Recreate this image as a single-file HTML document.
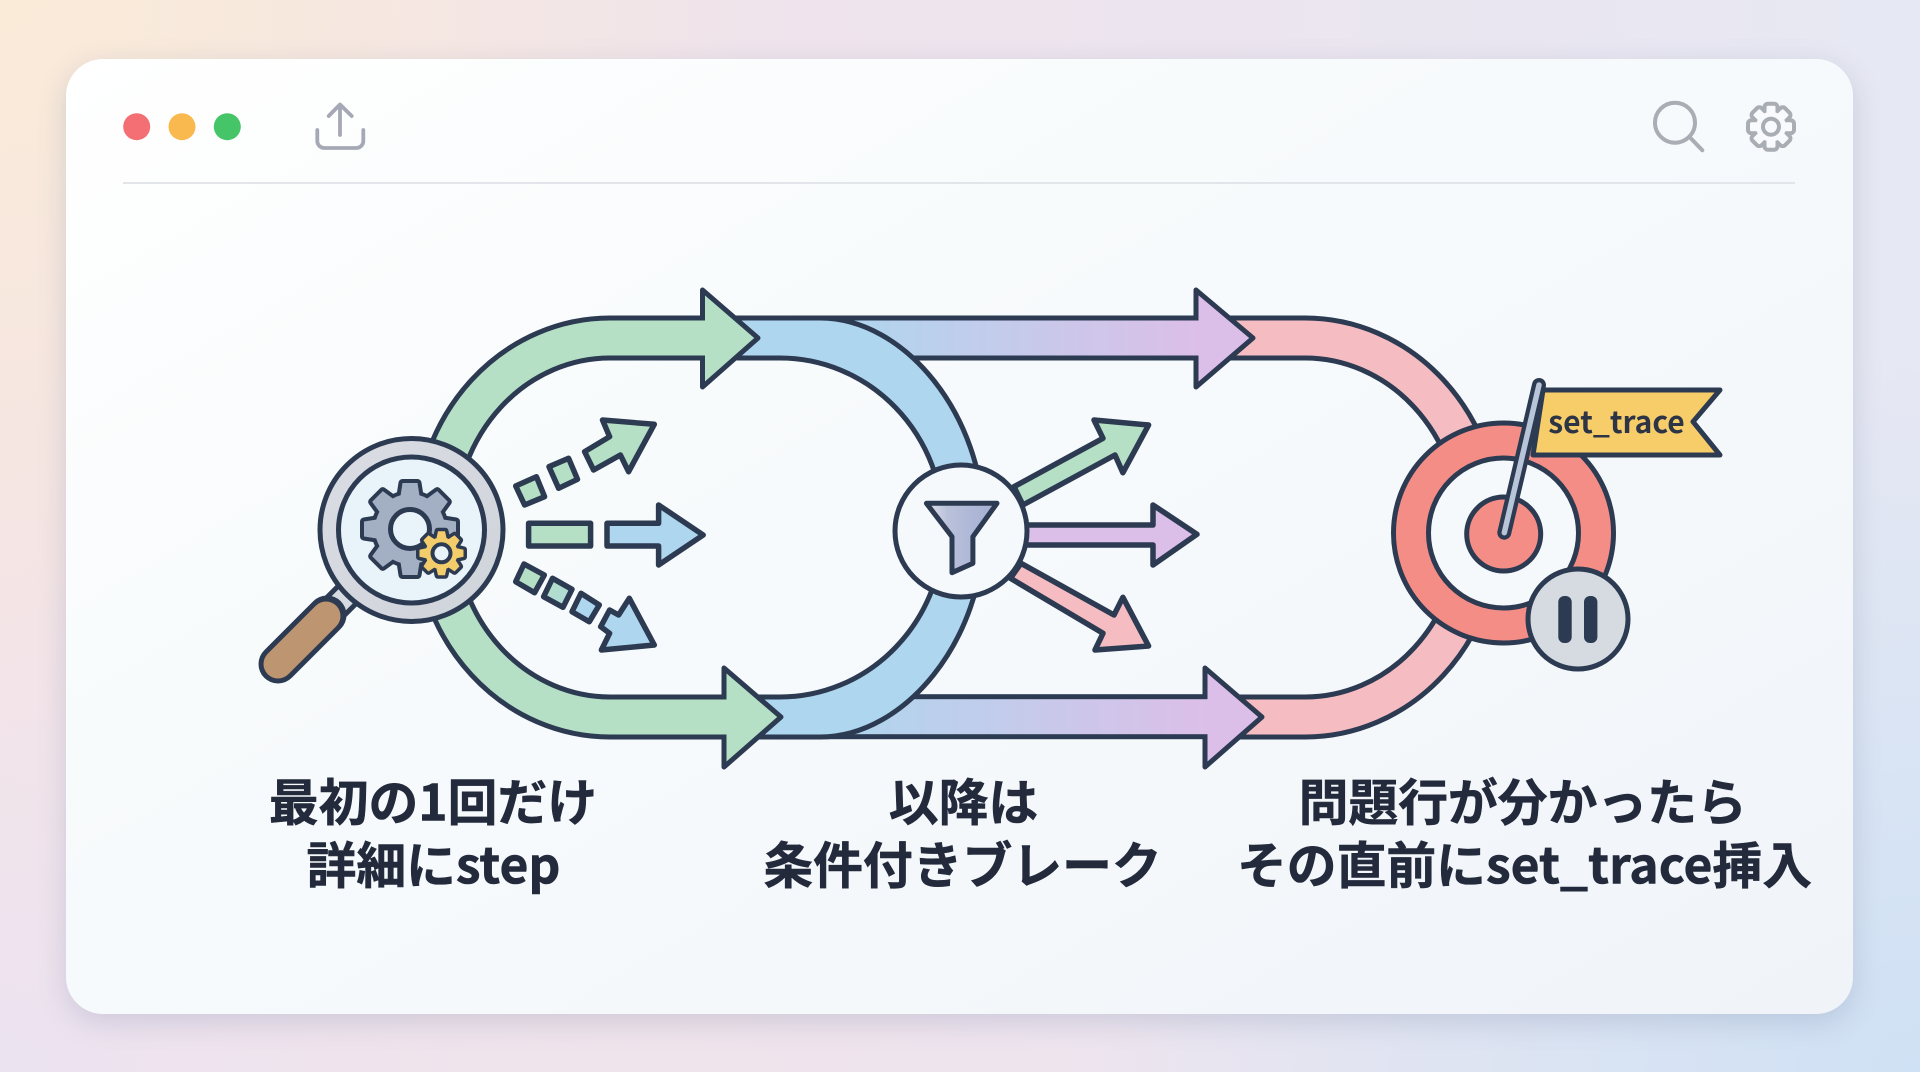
<!DOCTYPE html>
<html lang="ja"><head><meta charset="utf-8"><title>Diagram</title>
<style>
html,body{margin:0;padding:0;width:1920px;height:1072px;overflow:hidden}
body{position:relative;background:
 radial-gradient(ellipse 760px 640px at 0 0,#faebd8 0%,rgba(250,235,216,0) 100%),
 radial-gradient(ellipse 820px 720px at 1920px 1072px,#cfe1f4 0%,rgba(207,225,244,0) 100%),
 radial-gradient(ellipse 700px 500px at 0 1072px,#ece3f1 0%,rgba(236,227,241,0) 100%),
 linear-gradient(90deg,#f4e4e6 0%,#eee4ee 50%,#e6e8f3 100%);}
#card{position:absolute;left:66px;top:59px;width:1787px;height:955px;border-radius:37px;
 background:linear-gradient(150deg,#ffffff 0%,#f8fbfc 35%,#f4f8fb 70%,#f0f3f8 100%);
 box-shadow:0 8px 28px rgba(90,105,140,.22)}
svg{position:absolute;left:0;top:0}
text{font-family:"Noto Sans CJK JP","Liberation Sans",sans-serif;font-weight:700}
</style></head><body>
<div id="card"></div>
<svg width="1920" height="1072" viewBox="0 0 1920 1072" xmlns="http://www.w3.org/2000/svg">
<defs>
<linearGradient id="bp" gradientUnits="userSpaceOnUse" x1="830" y1="0" x2="1200" y2="0"><stop offset="0" stop-color="#aed6ee"/><stop offset="1" stop-color="#dcbfe8"/></linearGradient>
<linearGradient id="bp2" gradientUnits="userSpaceOnUse" x1="830" y1="0" x2="1210" y2="0"><stop offset="0" stop-color="#aed6ee"/><stop offset="1" stop-color="#dcbfe8"/></linearGradient>
<linearGradient id="ring" x1="0" y1="0" x2="1" y2="1"><stop offset="0" stop-color="#dadde3"/><stop offset="1" stop-color="#cfd3da"/></linearGradient>
<linearGradient id="fun" x1="0" y1="0" x2="1" y2="0"><stop offset="0" stop-color="#e0e3ec"/><stop offset=".3" stop-color="#b9c1da"/><stop offset="1" stop-color="#a3aed2"/></linearGradient>
<linearGradient id="s2" x1="0" y1="0" x2="1" y2="1"><stop offset="0" stop-color="#b5e0c5"/><stop offset="1" stop-color="#aed9dc"/></linearGradient>
<g id="bigg">
 <circle r="35"/>
 <path id="t" d="M-10,-30L-7.5,-46H7.5L10,-30Z"/>
 <use href="#t" transform="rotate(45)"/>
 <use href="#t" transform="rotate(90)"/>
 <use href="#t" transform="rotate(135)"/>
 <use href="#t" transform="rotate(180)"/>
 <use href="#t" transform="rotate(225)"/>
 <use href="#t" transform="rotate(270)"/>
 <use href="#t" transform="rotate(315)"/>
</g>
<g id="smg">
 <circle r="16"/>
 <path id="u" d="M-5.5,-13L-3.5,-22H3.5L5.5,-13Z"/>
 <use href="#u" transform="rotate(45)"/>
 <use href="#u" transform="rotate(90)"/>
 <use href="#u" transform="rotate(135)"/>
 <use href="#u" transform="rotate(180)"/>
 <use href="#u" transform="rotate(225)"/>
 <use href="#u" transform="rotate(270)"/>
 <use href="#u" transform="rotate(315)"/>
</g>
<g id="topg">
 <circle r="15"/>
 <rect x="-4.5" y="-21" width="9" height="9" rx="1.5"/>
 <rect x="-4.5" y="-21" width="9" height="9" rx="1.5" transform="rotate(45)"/>
 <rect x="-4.5" y="-21" width="9" height="9" rx="1.5" transform="rotate(90)"/>
 <rect x="-4.5" y="-21" width="9" height="9" rx="1.5" transform="rotate(135)"/>
 <rect x="-4.5" y="-21" width="9" height="9" rx="1.5" transform="rotate(180)"/>
 <rect x="-4.5" y="-21" width="9" height="9" rx="1.5" transform="rotate(225)"/>
 <rect x="-4.5" y="-21" width="9" height="9" rx="1.5" transform="rotate(270)"/>
 <rect x="-4.5" y="-21" width="9" height="9" rx="1.5" transform="rotate(315)"/>
</g>
</defs>

<!-- window chrome -->
<circle cx="136.7" cy="126.7" r="13.5" fill="#f46f73"/>
<circle cx="182" cy="126.7" r="13.5" fill="#fab94e"/>
<circle cx="227.3" cy="126.7" r="13.5" fill="#45c468"/>
<rect x="123" y="182" width="1672" height="2" fill="#e2e6ea"/>
<g fill="none" stroke="#a5a9b6" stroke-width="3.8" stroke-linecap="round" stroke-linejoin="round">
 <path d="M340,105V135M328.7,116L340,104.5L351.7,116"/>
 <path d="M317.3,130V141a7,7 0 0 0 7,7H356.3a7,7 0 0 0 7,-7V130"/>
</g>
<g fill="none" stroke="#a9adb4" stroke-width="4" stroke-linecap="round">
 <circle cx="1675" cy="122.7" r="20"/>
 <path d="M1689.5,137L1702.3,150.3"/>
</g>
<g transform="translate(1771,126.7)">
 <use href="#topg" fill="#a9adb4" stroke="#a9adb4" stroke-width="8"/>
 <use href="#topg" fill="#f8fafd"/>
 <circle r="8" fill="none" stroke="#a9adb4" stroke-width="4"/>
</g>

<!-- pink return arcs -->
<path d="M1225,338H1305A175,189.5 0 0 1 1305,717H1225" fill="none" stroke="#2c3a52" stroke-width="45"/>
<path d="M1225,338H1305A175,189.5 0 0 1 1305,717H1225" fill="none" stroke="#f5bdc2" stroke-width="35"/>

<!-- gradient bands -->
<rect x="800" y="315.5" width="400" height="45" fill="#2c3a52"/>
<rect x="800" y="694.2" width="410" height="45" fill="#2c3a52"/>
<polygon points="1196,290 1253,338 1196,387" fill="#dcbfe8" stroke="#2c3a52" stroke-width="5" stroke-linejoin="round"/>
<polygon points="1205,668 1262,717 1205,767" fill="#dcbfe8" stroke="#2c3a52" stroke-width="5" stroke-linejoin="round"/>
<rect x="800" y="320.5" width="399" height="35" fill="url(#bp)"/>
<rect x="800" y="699.2" width="408" height="35" fill="url(#bp2)"/>

<!-- blue arc -->
<path d="M715,318H820C905,318 984,415 984,527.5C984,640 905,737 820,737H737V697H780A163.5,169.5 0 0 0 780,358H715Z" fill="#aed6ee"/>
<path d="M715,318H820C905,318 984,415 984,527.5C984,640 905,737 820,737H737M737,697H780A163.5,169.5 0 0 0 780,358H715" fill="none" stroke="#2c3a52" stroke-width="5"/>

<!-- green arc -->
<path d="M705,338H610A175,189.5 0 0 0 610,717H727" fill="none" stroke="#2c3a52" stroke-width="45"/>
<polygon points="702.5,290 758,338 702.5,387" fill="#b5e0c5" stroke="#2c3a52" stroke-width="5" stroke-linejoin="round"/>
<polygon points="724,668 781,717 724,767" fill="#b5e0c5" stroke="#2c3a52" stroke-width="5" stroke-linejoin="round"/>
<path d="M706,338H610A175,189.5 0 0 0 610,717H728" fill="none" stroke="#b5e0c5" stroke-width="35"/>

<!-- dashed arrows -->
<g stroke="#2c3a52" stroke-width="5.5" stroke-linejoin="round">
 <polygon points="515.7,486 536.4,476.7 544.6,496.7 524.6,505" fill="#b5e0c5"/>
 <polygon points="549,466.7 568.6,458.3 577.5,479.3 558.6,488.3" fill="#b5e0c5"/>
 <polygon points="584.6,451.7 609.6,436.7 602.5,420 654.3,424.3 628.6,471.7 620.4,455 593.6,470" fill="#b5e0c5"/>
 <rect x="528.6" y="523.3" width="62" height="22.7" fill="#b5e0c5"/>
 <polygon points="607,523.3 658.6,523.3 658.6,505 703.2,535 658.6,565 658.6,546 607,546" fill="#aed6ee"/>
 <polygon points="524,564 544.3,575 534.6,592.7 515.7,581.7" fill="#b5e0c5"/>
 <polygon points="552.5,578.3 572,589.3 563,607.3 543.6,596.7" fill="url(#s2)"/>
 <polygon points="581,593.3 599.3,605 589.3,621.7 572,611.7" fill="#aed6ee"/>
 <polygon points="609.6,610 618.6,615 629.3,598.3 654.3,645 601.4,650 609.6,633.3 600.7,626.7" fill="#aed6ee"/>
 <!-- filter arrows -->
 <polygon points="1014,486.7 1103,438.3 1094,420 1148.6,425 1122.9,472.7 1115,455 1022.9,505" fill="#b5e0c5"/>
 <polygon points="1020,525 1153,525 1153,505 1197,534.3 1153,565 1153,545 1020,545" fill="#dcbfe8"/>
 <polygon points="1021,563.3 1114,615 1122.9,597.3 1148.6,646 1095,650 1103,633.3 1010.4,578.3" fill="#f5bdc2"/>
</g>

<!-- funnel node -->
<circle cx="961" cy="531" r="66" fill="#f5f9fb" stroke="#2c3a52" stroke-width="5"/>
<polygon points="926.4,503.3 997,503.3 972.9,536.7 972.9,563.3 952,572.7 952,536.7" fill="url(#fun)" stroke="#2c3a52" stroke-width="5" stroke-linejoin="round"/>

<!-- magnifier -->
<path d="M352,590L330,612" stroke="#2c3a52" stroke-width="30" fill="none"/>
<path d="M352,590L330,612" stroke="#d5dae3" stroke-width="20" fill="none"/>
<path d="M327,615L278,664" stroke="#2c3a52" stroke-width="39" stroke-linecap="round" fill="none"/>
<path d="M326,616L278,664" stroke="#bd9570" stroke-width="29" stroke-linecap="round" fill="none"/>
<circle cx="411.5" cy="530" r="91.5" fill="url(#ring)" stroke="#2c3a52" stroke-width="5"/>
<circle cx="411.5" cy="530" r="73" fill="#e9f3fa" stroke="#2c3a52" stroke-width="5"/>
<g transform="translate(410,529)">
 <use href="#bigg" fill="#2c3a52" stroke="#2c3a52" stroke-width="8" stroke-linejoin="round"/>
 <use href="#bigg" fill="#a3b0c4"/>
 <circle r="19.5" fill="#e9f3fa" stroke="#2c3a52" stroke-width="5"/>
</g>
<g transform="translate(441.5,553.3)">
 <use href="#smg" fill="#2c3a52" stroke="#2c3a52" stroke-width="7" stroke-linejoin="round"/>
 <use href="#smg" fill="#f3cd6c"/>
 <circle r="9" fill="#e9f3fa" stroke="#2c3a52" stroke-width="4"/>
</g>

<!-- target -->
<circle cx="1503.5" cy="533" r="110" fill="#f58d87" stroke="#2c3a52" stroke-width="5"/>
<circle cx="1503.5" cy="533" r="75" fill="#f5f9fb" stroke="#2c3a52" stroke-width="5"/>
<circle cx="1503.7" cy="534" r="37" fill="#f58d87" stroke="#2c3a52" stroke-width="5"/>
<polygon points="1543,390 1720,390 1693,421.7 1720,455 1533,455" fill="#f6cd69" stroke="#2c3a52" stroke-width="5" stroke-linejoin="round"/>
<path d="M1539,385L1504.3,532.7" stroke="#2c3a52" stroke-width="14" stroke-linecap="round"/>
<path d="M1539,385L1504.3,532.7" stroke="#b8c4d8" stroke-width="5.5" stroke-linecap="round"/>
<text x="1616.5" y="433" font-size="30" fill="#2c3446" text-anchor="middle">set_trace</text>
<circle cx="1578" cy="619" r="50" fill="#d5dbe0" stroke="#2c3a52" stroke-width="5"/>
<rect x="1558.3" y="596" width="13.4" height="47" rx="6" fill="#2c3a52"/>
<rect x="1584" y="596" width="13.4" height="47" rx="6" fill="#2c3a52"/>

<!-- labels -->
<g font-size="49.8" fill="#232a3c" stroke="#232a3c" stroke-width=".6" text-anchor="middle">
 <text x="433" y="820.5">最初の1回だけ</text>
 <text x="433.5" y="883.5">詳細にstep</text>
 <text x="963.5" y="820.5">以降は</text>
 <text x="962.5" y="883.5">条件付きブレーク</text>
 <text x="1522.7" y="820.5">問題行が分かったら</text>
 <text x="1524.5" y="883.5">その直前にset_trace挿入</text>
</g>
</svg>
</body></html>
